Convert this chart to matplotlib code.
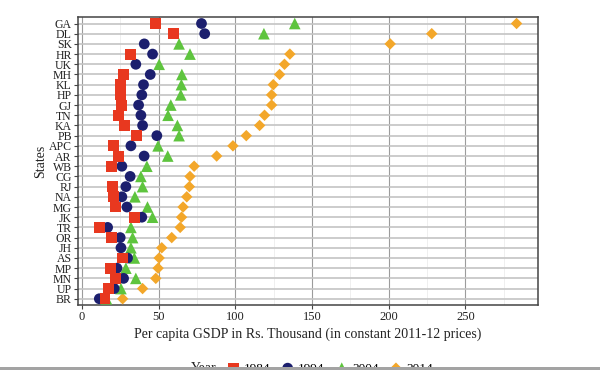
import numpy as np
import matplotlib
matplotlib.use("Agg")
import matplotlib.pyplot as plt
from matplotlib.patches import Rectangle

plt.rcParams["font.family"] = ["Liberation Serif", "DejaVu Serif"]

# ---------------------------------------------------------------------------
# data (thousand Rs. per capita, 2011-12 prices)
# ---------------------------------------------------------------------------
states = ["GA", "DL", "SK", "HR", "UK", "MH", "KL", "HP", "GJ", "TN", "KA", "PB",
          "APC", "AR", "WB", "CG", "RJ", "NA", "MG", "JK", "TR", "OR", "JH", "AS",
          "MP", "MN", "UP", "BR"]
years = ["1984", "1994", "2004", "2014"]

y1984 = [48.2, 59.7, np.nan, 32.0, np.nan, 27.2, 25.5, 25.0, 25.9, 23.7, 28.1, 35.9,
         20.7, 23.7, 19.4, np.nan, 20.1, 20.7, 22.2, 34.6, 11.4, 19.4, np.nan, 26.6,
         18.6, 22.2, 17.3, 15.1]
y1994 = [78.0, 80.1, 40.7, 46.1, 35.2, 44.6, 40.2, 39.1, 37.0, 38.5, 39.6, 48.9,
         32.0, 40.6, 26.1, 31.5, 28.7, 26.1, 29.4, 39.1, 16.8, 25.0, 25.5, 29.8,
         22.9, 27.2, 21.1, 11.4]
y2004 = [138.8, 118.7, 63.4, 70.5, 50.4, 65.2, 64.9, 64.5, 58.0, 56.2, 62.3, 63.4,
         49.7, 56.0, 42.4, 38.5, 39.6, 34.6, 42.8, 46.1, 32.0, 33.1, 32.0, 34.2,
         28.7, 35.2, 25.5, 16.0]
y2014 = [283.4, 228.1, 201.0, 135.6, 132.1, 128.9, 124.8, 123.7, 123.7, 119.1, 115.9, 107.2,
         98.5, 87.9, 73.2, 70.5, 70.1, 68.4, 66.0, 65.0, 64.1, 58.6, 52.1, 50.4,
         49.7, 48.2, 39.6, 26.6]

colors = {"1984": "#e8381f", "1994": "#1c1f6e", "2004": "#5ec43e", "2014": "#f3a72a"}
markers = {"1984": "s", "1994": "o", "2004": "^", "2014": "D"}
sizes = {"1984": 62, "1994": 60, "2004": 70, "2014": 34}
series = {"1984": y1984, "1994": y1994, "2004": y2004, "2014": y2014}

fig = plt.figure(figsize=(6, 3.7), dpi=100)
ax = fig.add_axes([0.13, 0.176, 0.767, 0.777])

ypos = np.arange(len(states))

# later years first so the 1984 squares sit on top
handles = {}
for yr in reversed(years):
    handles[yr] = ax.scatter(series[yr], ypos, s=sizes[yr], marker=markers[yr],
                             color=colors[yr], edgecolors="none", zorder=3,
                             label=yr)

ax.set_ylim(len(states) - 1 + 0.6, -0.6)
ax.set_yticks(ypos)
ax.set_yticklabels(states)
ax.set_xlim(-2.5, 297.5)
ax.set_xticks([0, 50, 100, 150, 200, 250])
ax.set_xticks([25, 75, 125, 175, 225, 275], minor=True)

ax.grid(axis="y", color="#c4c4c4", linewidth=1.2, zorder=0)
ax.grid(axis="x", which="major", color="#9c9c9c", linewidth=0.8, zorder=0)
ax.grid(axis="x", which="minor", color="#ececec", linewidth=0.6, zorder=0)
ax.set_axisbelow(True)

for sp in ax.spines.values():
    sp.set_color("#444444")
    sp.set_linewidth(1.1)

ax.tick_params(axis="both", which="major", length=3, width=0.8, color="#444444",
               labelsize=9, pad=1.5, labelcolor="#222222")
ax.tick_params(axis="y", which="major", labelsize=8.5)
ax.tick_params(axis="x", which="minor", length=0)

ax.set_xlabel("Per capita GSDP in Rs. Thousand (in constant 2011-12 prices)",
              fontsize=10, color="#222222", labelpad=3)
ax.set_ylabel("States", fontsize=10, color="#222222", labelpad=1)

# legend sits at the very bottom edge and is cut off, like the source
leg = fig.legend([handles[yr] for yr in years], years, loc="center",
                 bbox_to_anchor=(0.55, 0.004), ncol=4, frameon=False,
                 fontsize=9.5, handlelength=1.0, handletextpad=0.3,
                 columnspacing=0.8, borderpad=0.0)
leg.set_zorder(5)
fig.text(0.34, 0.004, "Year", fontsize=10, va="center", ha="center",
         color="#222222", zorder=5)

fig.patches.append(Rectangle((0, 0), 1, 0.008, transform=fig.transFigure,
                             facecolor="#a3a3a3", edgecolor="none", zorder=10))

fig.savefig("out.png", dpi=100)
